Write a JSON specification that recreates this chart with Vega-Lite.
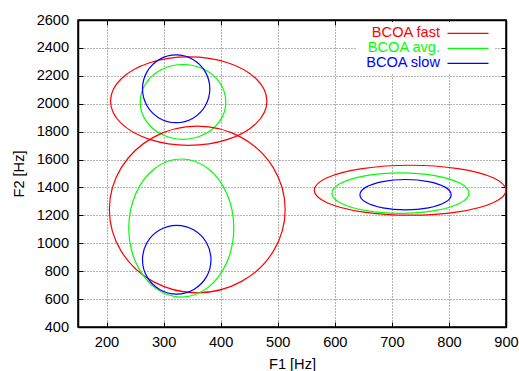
{
  "$schema": "https://vega.github.io/schema/vega-lite/v6.json",
  "width": 428,
  "height": 307,
  "autosize": {"type": "none"},
  "padding": {"left": 78, "top": 20, "right": 13, "bottom": 44},
  "config": {
    "font": "Liberation Sans",
    "view": {"stroke": "#000", "strokeWidth": 1.5},
    "axis": {
      "labelFont": "Liberation Sans", "labelFontSize": 14.6, "labelColor": "#000", "labelFlush": false,
      "titleFont": "Liberation Sans", "titleFontSize": 14.6, "titleFontWeight": "normal", "titleColor": "#000",
      "domainColor": "#000", "domainWidth": 1.5,
      "tickColor": "#000", "tickSize": -5, "tickWidth": 1,
      "gridColor": "#666", "gridDash": [1, 2], "gridWidth": 1, "gridOpacity": 1
    }
  },
  "data": {"values": [
    {"s":"BCOA fast","e":"fu","i":0,"x":481,"y":2019},
    {"s":"BCOA fast","e":"fu","i":1,"x":462.6,"y":2177.5},
    {"s":"BCOA fast","e":"fu","i":2,"x":412.5,"y":2293.5},
    {"s":"BCOA fast","e":"fu","i":3,"x":344,"y":2336},
    {"s":"BCOA fast","e":"fu","i":4,"x":275.5,"y":2293.5},
    {"s":"BCOA fast","e":"fu","i":5,"x":225.4,"y":2177.5},
    {"s":"BCOA fast","e":"fu","i":6,"x":207,"y":2019},
    {"s":"BCOA fast","e":"fu","i":7,"x":225.4,"y":1860.5},
    {"s":"BCOA fast","e":"fu","i":8,"x":275.5,"y":1744.5},
    {"s":"BCOA fast","e":"fu","i":9,"x":344,"y":1702},
    {"s":"BCOA fast","e":"fu","i":10,"x":412.5,"y":1744.5},
    {"s":"BCOA fast","e":"fu","i":11,"x":462.6,"y":1860.5},

    {"s":"BCOA avg.","e":"au","i":0,"x":409,"y":2013},
    {"s":"BCOA avg.","e":"au","i":1,"x":399,"y":2147},
    {"s":"BCOA avg.","e":"au","i":2,"x":371.5,"y":2245.1},
    {"s":"BCOA avg.","e":"au","i":3,"x":334,"y":2281},
    {"s":"BCOA avg.","e":"au","i":4,"x":296.5,"y":2245.1},
    {"s":"BCOA avg.","e":"au","i":5,"x":269,"y":2147},
    {"s":"BCOA avg.","e":"au","i":6,"x":259,"y":2013},
    {"s":"BCOA avg.","e":"au","i":7,"x":269,"y":1879},
    {"s":"BCOA avg.","e":"au","i":8,"x":296.5,"y":1780.9},
    {"s":"BCOA avg.","e":"au","i":9,"x":334,"y":1745},
    {"s":"BCOA avg.","e":"au","i":10,"x":371.5,"y":1780.9},
    {"s":"BCOA avg.","e":"au","i":11,"x":399,"y":1879},

    {"s":"BCOA slow","e":"su","i":0,"x":381,"y":2107},
    {"s":"BCOA slow","e":"su","i":1,"x":373.1,"y":2228.5},
    {"s":"BCOA slow","e":"su","i":2,"x":351.5,"y":2317.4},
    {"s":"BCOA slow","e":"su","i":3,"x":322,"y":2350},
    {"s":"BCOA slow","e":"su","i":4,"x":292.5,"y":2317.4},
    {"s":"BCOA slow","e":"su","i":5,"x":270.9,"y":2228.5},
    {"s":"BCOA slow","e":"su","i":6,"x":263,"y":2107},
    {"s":"BCOA slow","e":"su","i":7,"x":270.9,"y":1985.5},
    {"s":"BCOA slow","e":"su","i":8,"x":292.5,"y":1896.6},
    {"s":"BCOA slow","e":"su","i":9,"x":322,"y":1864},
    {"s":"BCOA slow","e":"su","i":10,"x":351.5,"y":1896.6},
    {"s":"BCOA slow","e":"su","i":11,"x":373.1,"y":1985.5},

    {"s":"BCOA fast","e":"fl","i":0,"x":513,"y":1242},
    {"s":"BCOA fast","e":"fl","i":1,"x":492.4,"y":1540.5},
    {"s":"BCOA fast","e":"fl","i":2,"x":436,"y":1759},
    {"s":"BCOA fast","e":"fl","i":3,"x":359,"y":1839},
    {"s":"BCOA fast","e":"fl","i":4,"x":282,"y":1759},
    {"s":"BCOA fast","e":"fl","i":5,"x":225.6,"y":1540.5},
    {"s":"BCOA fast","e":"fl","i":6,"x":205,"y":1242},
    {"s":"BCOA fast","e":"fl","i":7,"x":225.6,"y":943.5},
    {"s":"BCOA fast","e":"fl","i":8,"x":282,"y":725},
    {"s":"BCOA fast","e":"fl","i":9,"x":359,"y":645},
    {"s":"BCOA fast","e":"fl","i":10,"x":436,"y":725},
    {"s":"BCOA fast","e":"fl","i":11,"x":492.4,"y":943.5},

    {"s":"BCOA avg.","e":"al","i":0,"x":423,"y":1109},
    {"s":"BCOA avg.","e":"al","i":1,"x":410.7,"y":1356.5},
    {"s":"BCOA avg.","e":"al","i":2,"x":377,"y":1537.7},
    {"s":"BCOA avg.","e":"al","i":3,"x":331,"y":1604},
    {"s":"BCOA avg.","e":"al","i":4,"x":285,"y":1537.7},
    {"s":"BCOA avg.","e":"al","i":5,"x":251.3,"y":1356.5},
    {"s":"BCOA avg.","e":"al","i":6,"x":239,"y":1109},
    {"s":"BCOA avg.","e":"al","i":7,"x":251.3,"y":861.5},
    {"s":"BCOA avg.","e":"al","i":8,"x":285,"y":680.3},
    {"s":"BCOA avg.","e":"al","i":9,"x":331,"y":614},
    {"s":"BCOA avg.","e":"al","i":10,"x":377,"y":680.3},
    {"s":"BCOA avg.","e":"al","i":11,"x":410.7,"y":861.5},

    {"s":"BCOA slow","e":"sl","i":0,"x":383,"y":882},
    {"s":"BCOA slow","e":"sl","i":1,"x":375,"y":1005},
    {"s":"BCOA slow","e":"sl","i":2,"x":353,"y":1095},
    {"s":"BCOA slow","e":"sl","i":3,"x":323,"y":1128},
    {"s":"BCOA slow","e":"sl","i":4,"x":293,"y":1095},
    {"s":"BCOA slow","e":"sl","i":5,"x":271,"y":1005},
    {"s":"BCOA slow","e":"sl","i":6,"x":263,"y":882},
    {"s":"BCOA slow","e":"sl","i":7,"x":271,"y":759},
    {"s":"BCOA slow","e":"sl","i":8,"x":293,"y":669},
    {"s":"BCOA slow","e":"sl","i":9,"x":323,"y":636},
    {"s":"BCOA slow","e":"sl","i":10,"x":353,"y":669},
    {"s":"BCOA slow","e":"sl","i":11,"x":375,"y":759},

    {"s":"BCOA fast","e":"fr","i":0,"x":900,"y":1380},
    {"s":"BCOA fast","e":"fr","i":1,"x":877.5,"y":1469.5},
    {"s":"BCOA fast","e":"fr","i":2,"x":816,"y":1535},
    {"s":"BCOA fast","e":"fr","i":3,"x":732,"y":1559},
    {"s":"BCOA fast","e":"fr","i":4,"x":648,"y":1535},
    {"s":"BCOA fast","e":"fr","i":5,"x":586.5,"y":1469.5},
    {"s":"BCOA fast","e":"fr","i":6,"x":564,"y":1380},
    {"s":"BCOA fast","e":"fr","i":7,"x":586.5,"y":1290.5},
    {"s":"BCOA fast","e":"fr","i":8,"x":648,"y":1225},
    {"s":"BCOA fast","e":"fr","i":9,"x":732,"y":1201},
    {"s":"BCOA fast","e":"fr","i":10,"x":816,"y":1225},
    {"s":"BCOA fast","e":"fr","i":11,"x":877.5,"y":1290.5},

    {"s":"BCOA avg.","e":"ar","i":0,"x":835,"y":1359},
    {"s":"BCOA avg.","e":"ar","i":1,"x":818.9,"y":1431.5},
    {"s":"BCOA avg.","e":"ar","i":2,"x":775,"y":1484.6},
    {"s":"BCOA avg.","e":"ar","i":3,"x":715,"y":1504},
    {"s":"BCOA avg.","e":"ar","i":4,"x":655,"y":1484.6},
    {"s":"BCOA avg.","e":"ar","i":5,"x":611.1,"y":1431.5},
    {"s":"BCOA avg.","e":"ar","i":6,"x":595,"y":1359},
    {"s":"BCOA avg.","e":"ar","i":7,"x":611.1,"y":1286.5},
    {"s":"BCOA avg.","e":"ar","i":8,"x":655,"y":1233.4},
    {"s":"BCOA avg.","e":"ar","i":9,"x":715,"y":1214},
    {"s":"BCOA avg.","e":"ar","i":10,"x":775,"y":1233.4},
    {"s":"BCOA avg.","e":"ar","i":11,"x":818.9,"y":1286.5},

    {"s":"BCOA slow","e":"sr","i":0,"x":804,"y":1348},
    {"s":"BCOA slow","e":"sr","i":1,"x":793.3,"y":1402.5},
    {"s":"BCOA slow","e":"sr","i":2,"x":764,"y":1442.4},
    {"s":"BCOA slow","e":"sr","i":3,"x":724,"y":1457},
    {"s":"BCOA slow","e":"sr","i":4,"x":684,"y":1442.4},
    {"s":"BCOA slow","e":"sr","i":5,"x":654.7,"y":1402.5},
    {"s":"BCOA slow","e":"sr","i":6,"x":644,"y":1348},
    {"s":"BCOA slow","e":"sr","i":7,"x":654.7,"y":1293.5},
    {"s":"BCOA slow","e":"sr","i":8,"x":684,"y":1253.6},
    {"s":"BCOA slow","e":"sr","i":9,"x":724,"y":1239},
    {"s":"BCOA slow","e":"sr","i":10,"x":764,"y":1253.6},
    {"s":"BCOA slow","e":"sr","i":11,"x":793.3,"y":1293.5}
  ]},
  "layer": [
    {
      "mark": {"type": "line", "interpolate": "cardinal-closed", "strokeWidth": 1.2},
      "encoding": {
        "x": {"field": "x", "type": "quantitative",
          "scale": {"domain": [150, 900], "nice": false, "zero": false},
          "axis": {"orient": "bottom", "title": "F1 [Hz]", "format": "d", "values": [200, 300, 400, 500, 600, 700, 800, 900], "grid": true, "labelPadding": 12, "titlePadding": 8}},
        "y": {"field": "y", "type": "quantitative",
          "scale": {"domain": [400, 2600], "nice": false, "zero": false},
          "axis": {"orient": "left", "title": "F2 [Hz]", "format": "d", "values": [400, 600, 800, 1000, 1200, 1400, 1600, 1800, 2000, 2200, 2400, 2600], "grid": true, "labelPadding": 14.4, "titlePadding": 10}},
        "color": {"field": "s", "type": "nominal",
          "scale": {"domain": ["BCOA fast", "BCOA avg.", "BCOA slow"], "range": ["#ff0000", "#00ff00", "#0000ff"]},
          "legend": {
            "title": null, "orient": "none", "legendX": 278, "legendY": 2,
            "symbolType": "M-4.1,0H4.1", "symbolSize": 100, "symbolStrokeWidth": 1.2,
            "labelFont": "Liberation Sans", "labelFontSize": 14.6,
            "fillColor": "#fff", "padding": 4, "rowPadding": 0,
            "encode": {
              "symbols": {"update": {"x": {"value": 108}}},
              "labels": {"update": {"x": {"value": 80}, "align": {"value": "right"}, "fill": {"scale": "color", "field": "value"}}}
            }
          }},
        "detail": {"field": "e"},
        "order": {"field": "i", "type": "quantitative"}
      }
    },
    {
      "mark": {"type": "point", "opacity": 0},
      "encoding": {
        "x": {"field": "x", "type": "quantitative",
          "scale": {"domain": [150, 900], "nice": false, "zero": false},
          "axis": {"orient": "top", "title": null, "labels": false, "grid": false, "values": [200, 300, 400, 500, 600, 700, 800, 900]}},
        "y": {"field": "y", "type": "quantitative",
          "scale": {"domain": [400, 2600], "nice": false, "zero": false},
          "axis": {"orient": "right", "title": null, "labels": false, "grid": false, "values": [400, 600, 800, 1000, 1200, 1400, 1600, 1800, 2000, 2200, 2400, 2600]}}
      }
    }
  ],
  "resolve": {"axis": {"x": "independent", "y": "independent"}}
}
